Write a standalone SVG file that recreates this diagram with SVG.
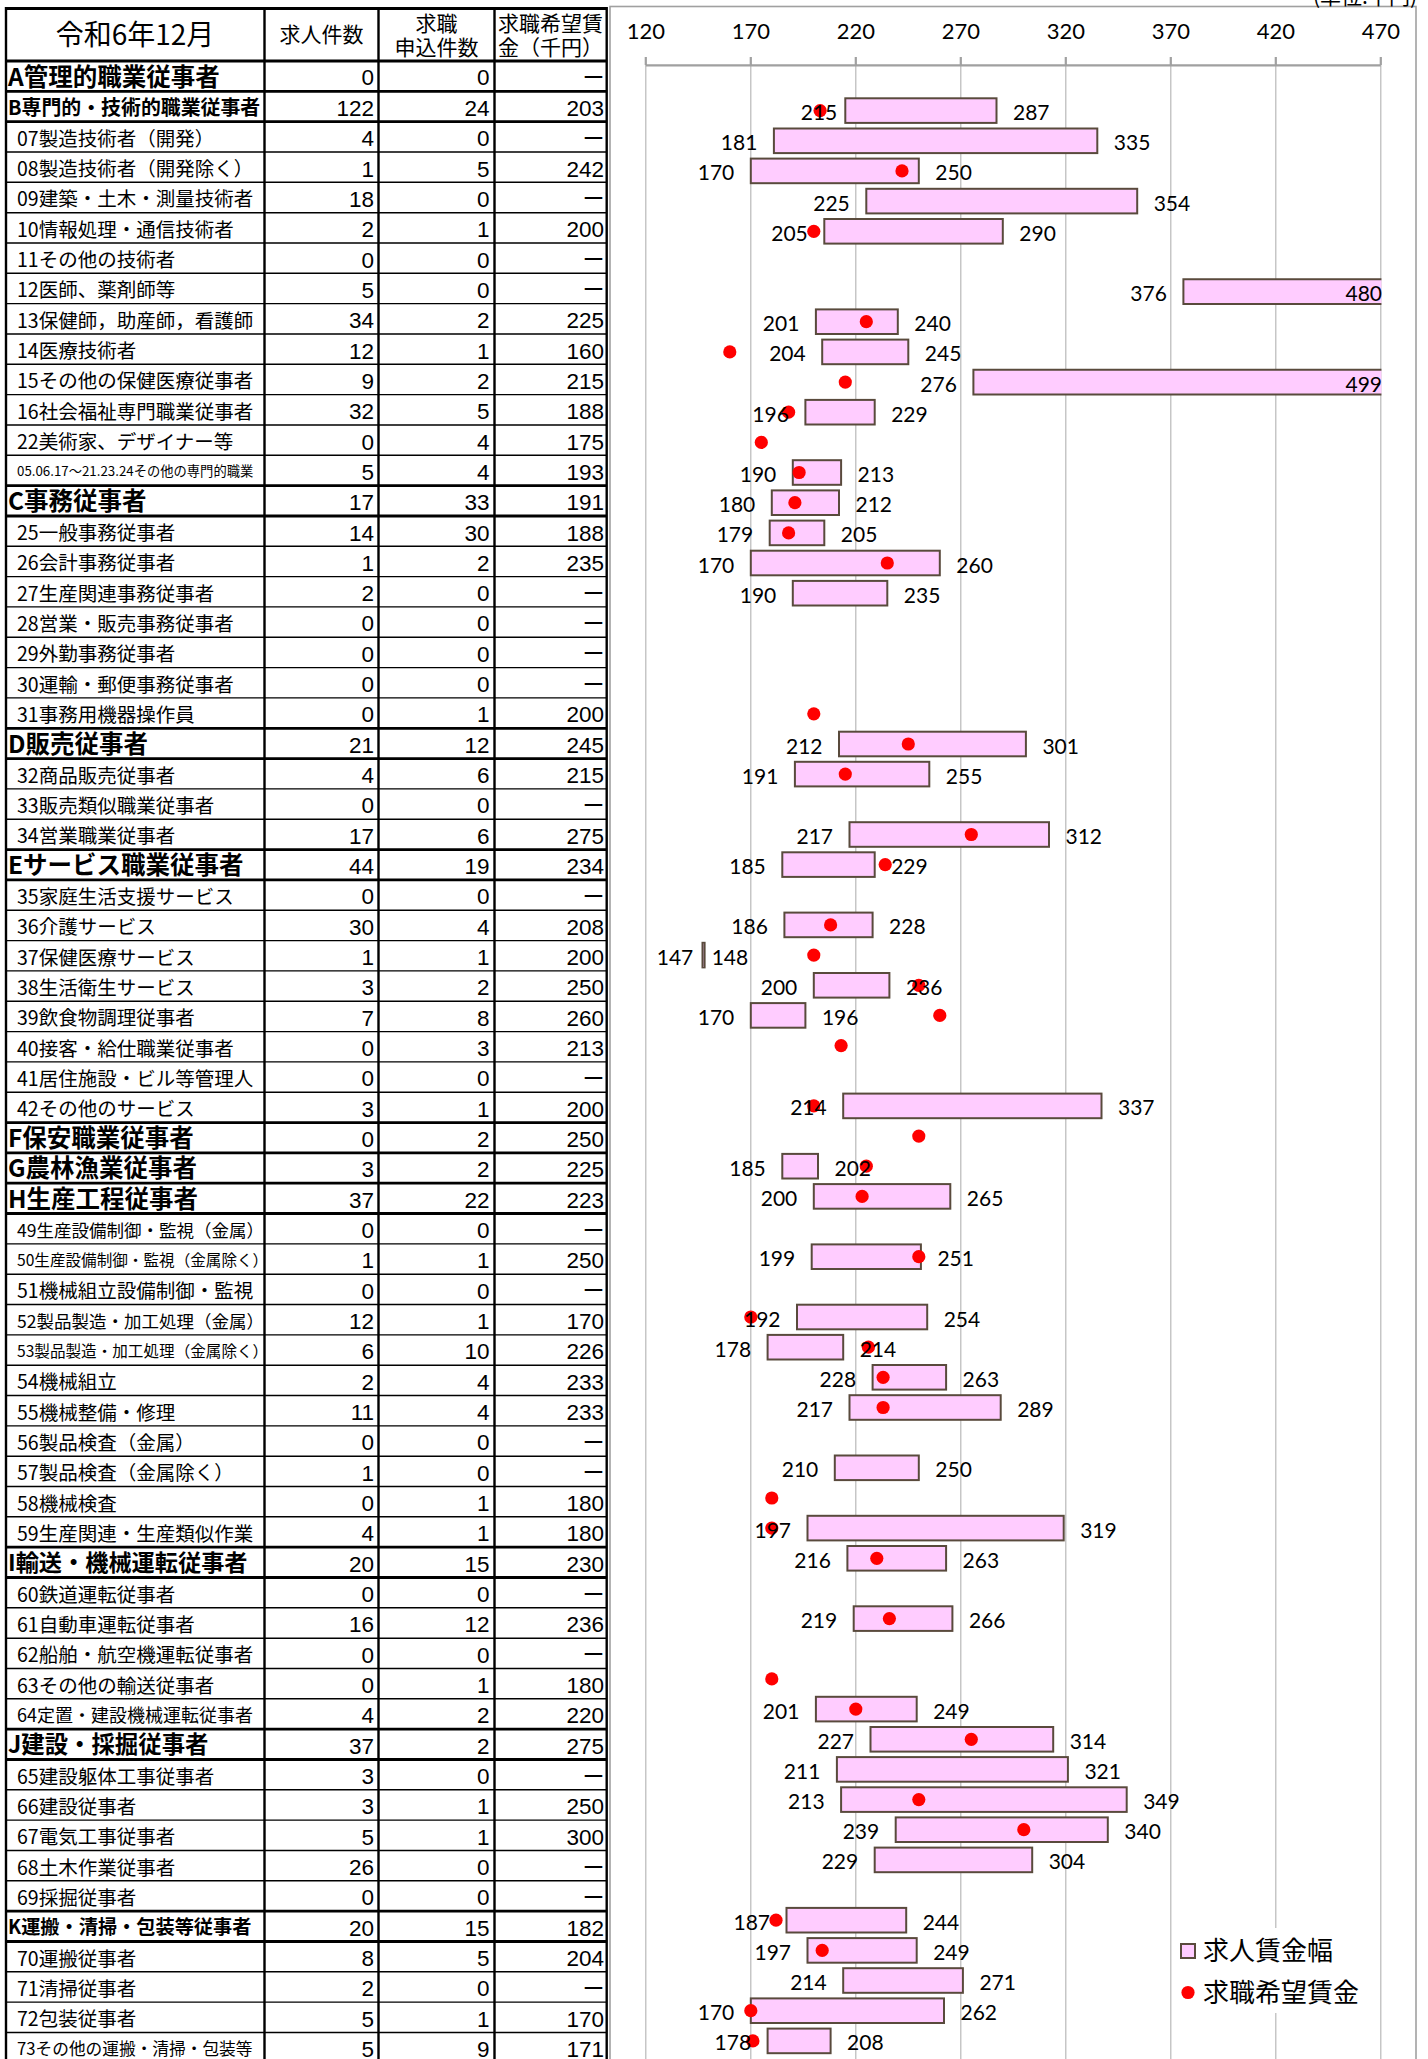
<svg xmlns="http://www.w3.org/2000/svg" width="1428" height="2059" viewBox="0 0 1428 2059">
<style>
.cj{font-family:"Noto Sans CJK JP","Noto Sans CJK SC",sans-serif;fill:#000}
.t{font-family:"Noto Sans CJK JP",sans-serif;font-size:19.5px}
.m{font-family:"Noto Sans CJK JP",sans-serif;font-size:24.5px;font-weight:700}
.n{font-family:"Liberation Sans",Arial,sans-serif;font-size:22.5px;text-anchor:end}
.d{font-family:"Noto Sans CJK JP",sans-serif;font-size:22px;text-anchor:end}
.h{font-family:"Noto Sans CJK JP",sans-serif;font-size:21px;text-anchor:middle}
.c{font-family:Lato,"Liberation Sans",sans-serif;font-size:21px}
.ce{text-anchor:end}
.ax{font-family:Lato,"Liberation Sans",sans-serif;font-size:22px;text-anchor:middle}
.bar{fill:#ffccff;stroke:#594a3c;stroke-width:2}
.dot{fill:#ff0000}
.thin{stroke:#000;stroke-width:1.4;fill:none}
.thick{stroke:#000;stroke-width:2.8;fill:none}
.grid{stroke:#b8b8b8;stroke-width:1.2;fill:none}
</style>
<rect x="0" y="0" width="1428" height="2059" fill="#fff"/>
<g id="chart-frame">
<rect x="610" y="6.5" width="806" height="2100" fill="#fff" stroke="#a0a0a0" stroke-width="1.6"/>
<text class="cj" x="1417" y="4" style="font-size:21px" text-anchor="end">(単位:千円)</text>
</g>
<g id="chart-grid">
<path class="grid" d="M645.8 65V2059M750.8 65V2059M855.8 65V2059M960.8 65V2059M1065.8 65V2059M1170.8 65V2059M1275.8 65V2059M1380.8 65V2059"/>
<path d="M645.8 65.3H1380.8M645.8 57V65M750.8 57V65M855.8 57V65M960.8 57V65M1065.8 57V65M1170.8 57V65M1275.8 57V65M1380.8 57V65" stroke="#a0a0a0" stroke-width="2.2" fill="none"/>
<text class="ax" x="645.8" y="39.3">120</text>
<text class="ax" x="750.8" y="39.3">170</text>
<text class="ax" x="855.8" y="39.3">220</text>
<text class="ax" x="960.8" y="39.3">270</text>
<text class="ax" x="1065.8" y="39.3">320</text>
<text class="ax" x="1170.8" y="39.3">370</text>
<text class="ax" x="1275.8" y="39.3">420</text>
<text class="ax" x="1380.8" y="39.3">470</text>
</g>
<g id="bars">
<rect class="bar" x="845.3" y="98.3" width="151.2" height="24.6"/>
<rect class="bar" x="773.9" y="128.5" width="323.4" height="24.6"/>
<rect class="bar" x="750.8" y="158.6" width="168" height="24.6"/>
<rect class="bar" x="866.3" y="188.8" width="270.9" height="24.6"/>
<rect class="bar" x="824.3" y="219" width="178.5" height="24.6"/>
<rect x="1183.4" y="279.3" width="198" height="24.6" fill="#ffccff"/>
<path d="M1381.4 279.3H1183.4V303.9H1381.4" fill="none" stroke="#594a3c" stroke-width="2"/>
<rect class="bar" x="815.9" y="309.4" width="81.9" height="24.6"/>
<rect class="bar" x="822.2" y="339.6" width="86.1" height="24.6"/>
<rect x="973.4" y="369.8" width="408" height="24.6" fill="#ffccff"/>
<path d="M1381.4 369.8H973.4V394.4H1381.4" fill="none" stroke="#594a3c" stroke-width="2"/>
<rect class="bar" x="805.4" y="399.9" width="69.3" height="24.6"/>
<rect class="bar" x="792.8" y="460.2" width="48.3" height="24.6"/>
<rect class="bar" x="771.8" y="490.4" width="67.2" height="24.6"/>
<rect class="bar" x="769.7" y="520.6" width="54.6" height="24.6"/>
<rect class="bar" x="750.8" y="550.7" width="189" height="24.6"/>
<rect class="bar" x="792.8" y="580.9" width="94.5" height="24.6"/>
<rect class="bar" x="839" y="731.7" width="186.9" height="24.6"/>
<rect class="bar" x="794.9" y="761.8" width="134.4" height="24.6"/>
<rect class="bar" x="849.5" y="822.2" width="199.5" height="24.6"/>
<rect class="bar" x="782.3" y="852.3" width="92.4" height="24.6"/>
<rect class="bar" x="784.4" y="912.6" width="88.2" height="24.6"/>
<rect class="bar" x="702.5" y="942.8" width="2.1" height="24.6"/>
<rect class="bar" x="813.8" y="973" width="75.6" height="24.6"/>
<rect class="bar" x="750.8" y="1003.1" width="54.6" height="24.6"/>
<rect class="bar" x="843.2" y="1093.6" width="258.3" height="24.6"/>
<rect class="bar" x="782.3" y="1153.9" width="35.7" height="24.6"/>
<rect class="bar" x="813.8" y="1184.1" width="136.5" height="24.6"/>
<rect class="bar" x="811.7" y="1244.4" width="109.2" height="24.6"/>
<rect class="bar" x="797" y="1304.7" width="130.2" height="24.6"/>
<rect class="bar" x="767.6" y="1334.9" width="75.6" height="24.6"/>
<rect class="bar" x="872.6" y="1365" width="73.5" height="24.6"/>
<rect class="bar" x="849.5" y="1395.2" width="151.2" height="24.6"/>
<rect class="bar" x="834.8" y="1455.5" width="84" height="24.6"/>
<rect class="bar" x="807.5" y="1515.8" width="256.2" height="24.6"/>
<rect class="bar" x="847.4" y="1546" width="98.7" height="24.6"/>
<rect class="bar" x="853.7" y="1606.3" width="98.7" height="24.6"/>
<rect class="bar" x="815.9" y="1696.8" width="100.8" height="24.6"/>
<rect class="bar" x="870.5" y="1727" width="182.7" height="24.6"/>
<rect class="bar" x="836.9" y="1757.1" width="231" height="24.6"/>
<rect class="bar" x="841.1" y="1787.3" width="285.6" height="24.6"/>
<rect class="bar" x="895.7" y="1817.4" width="212.1" height="24.6"/>
<rect class="bar" x="874.7" y="1847.6" width="157.5" height="24.6"/>
<rect class="bar" x="786.5" y="1907.9" width="119.7" height="24.6"/>
<rect class="bar" x="807.5" y="1938.1" width="109.2" height="24.6"/>
<rect class="bar" x="843.2" y="1968.2" width="119.7" height="24.6"/>
<rect class="bar" x="750.8" y="1998.4" width="193.2" height="24.6"/>
<rect class="bar" x="767.6" y="2028.6" width="63" height="24.6"/>
</g>
<g id="dots">
<circle class="dot" cx="820.1" cy="110.6" r="6.6"/>
<circle class="dot" cx="902" cy="170.9" r="6.6"/>
<circle class="dot" cx="813.8" cy="231.3" r="6.6"/>
<circle class="dot" cx="866.3" cy="321.7" r="6.6"/>
<circle class="dot" cx="729.8" cy="351.9" r="6.6"/>
<circle class="dot" cx="845.3" cy="382.1" r="6.6"/>
<circle class="dot" cx="788.6" cy="412.2" r="6.6"/>
<circle class="dot" cx="761.3" cy="442.4" r="6.6"/>
<circle class="dot" cx="799.1" cy="472.5" r="6.6"/>
<circle class="dot" cx="794.9" cy="502.7" r="6.6"/>
<circle class="dot" cx="788.6" cy="532.9" r="6.6"/>
<circle class="dot" cx="887.3" cy="563" r="6.6"/>
<circle class="dot" cx="813.8" cy="713.8" r="6.6"/>
<circle class="dot" cx="908.3" cy="744" r="6.6"/>
<circle class="dot" cx="845.3" cy="774.1" r="6.6"/>
<circle class="dot" cx="971.3" cy="834.5" r="6.6"/>
<circle class="dot" cx="885.2" cy="864.6" r="6.6"/>
<circle class="dot" cx="830.6" cy="924.9" r="6.6"/>
<circle class="dot" cx="813.8" cy="955.1" r="6.6"/>
<circle class="dot" cx="918.8" cy="985.3" r="6.6"/>
<circle class="dot" cx="939.8" cy="1015.4" r="6.6"/>
<circle class="dot" cx="841.1" cy="1045.6" r="6.6"/>
<circle class="dot" cx="813.8" cy="1105.9" r="6.6"/>
<circle class="dot" cx="918.8" cy="1136.1" r="6.6"/>
<circle class="dot" cx="866.3" cy="1166.2" r="6.6"/>
<circle class="dot" cx="862.1" cy="1196.4" r="6.6"/>
<circle class="dot" cx="918.8" cy="1256.7" r="6.6"/>
<circle class="dot" cx="750.8" cy="1317" r="6.6"/>
<circle class="dot" cx="868.4" cy="1347.2" r="6.6"/>
<circle class="dot" cx="883.1" cy="1377.3" r="6.6"/>
<circle class="dot" cx="883.1" cy="1407.5" r="6.6"/>
<circle class="dot" cx="771.8" cy="1498" r="6.6"/>
<circle class="dot" cx="771.8" cy="1528.1" r="6.6"/>
<circle class="dot" cx="876.8" cy="1558.3" r="6.6"/>
<circle class="dot" cx="889.4" cy="1618.6" r="6.6"/>
<circle class="dot" cx="771.8" cy="1678.9" r="6.6"/>
<circle class="dot" cx="855.8" cy="1709.1" r="6.6"/>
<circle class="dot" cx="971.3" cy="1739.3" r="6.6"/>
<circle class="dot" cx="918.8" cy="1799.6" r="6.6"/>
<circle class="dot" cx="1023.8" cy="1829.7" r="6.6"/>
<circle class="dot" cx="776" cy="1920.2" r="6.6"/>
<circle class="dot" cx="822.2" cy="1950.4" r="6.6"/>
<circle class="dot" cx="750.8" cy="2010.7" r="6.6"/>
<circle class="dot" cx="752.9" cy="2040.9" r="6.6"/>
</g>
<g id="bar-labels" class="c">
<text class="ce" x="837.3" y="120.1">215</text><text x="1013" y="120.1">287</text>
<text class="ce" x="757.4" y="150.3">181</text><text x="1113.8" y="150.3">335</text>
<text class="ce" x="734.3" y="180.4">170</text><text x="935.3" y="180.4">250</text>
<text class="ce" x="849.8" y="210.6">225</text><text x="1153.7" y="210.6">354</text>
<text class="ce" x="807.8" y="240.8">205</text><text x="1019.3" y="240.8">290</text>
<text class="ce" x="1166.9" y="301.1">376</text><text class="ce" x="1382" y="301.1">480</text>
<text class="ce" x="799.4" y="331.2">201</text><text x="914.3" y="331.2">240</text>
<text class="ce" x="805.7" y="361.4">204</text><text x="924.8" y="361.4">245</text>
<text class="ce" x="956.9" y="391.6">276</text><text class="ce" x="1382" y="391.6">499</text>
<text class="ce" x="788.9" y="421.7">196</text><text x="891.2" y="421.7">229</text>
<text class="ce" x="776.3" y="482">190</text><text x="857.6" y="482">213</text>
<text class="ce" x="755.3" y="512.2">180</text><text x="855.5" y="512.2">212</text>
<text class="ce" x="753.2" y="542.4">179</text><text x="840.8" y="542.4">205</text>
<text class="ce" x="734.3" y="572.5">170</text><text x="956.3" y="572.5">260</text>
<text class="ce" x="776.3" y="602.7">190</text><text x="903.8" y="602.7">235</text>
<text class="ce" x="822.5" y="753.5">212</text><text x="1042.4" y="753.5">301</text>
<text class="ce" x="778.4" y="783.6">191</text><text x="945.8" y="783.6">255</text>
<text class="ce" x="833" y="844">217</text><text x="1065.5" y="844">312</text>
<text class="ce" x="765.8" y="874.1">185</text><text x="891.2" y="874.1">229</text>
<text class="ce" x="767.9" y="934.4">186</text><text x="889.1" y="934.4">228</text>
<text class="ce" x="693.3" y="964.6">147</text><text x="711.7" y="964.6">148</text>
<text class="ce" x="797.3" y="994.8">200</text><text x="905.9" y="994.8">236</text>
<text class="ce" x="734.3" y="1024.9">170</text><text x="821.9" y="1024.9">196</text>
<text class="ce" x="826.7" y="1115.4">214</text><text x="1118" y="1115.4">337</text>
<text class="ce" x="765.8" y="1175.7">185</text><text x="834.5" y="1175.7">202</text>
<text class="ce" x="797.3" y="1205.9">200</text><text x="966.8" y="1205.9">265</text>
<text class="ce" x="795.2" y="1266.2">199</text><text x="937.4" y="1266.2">251</text>
<text class="ce" x="780.5" y="1326.5">192</text><text x="943.7" y="1326.5">254</text>
<text class="ce" x="751.1" y="1356.7">178</text><text x="859.7" y="1356.7">214</text>
<text class="ce" x="856.1" y="1386.8">228</text><text x="962.6" y="1386.8">263</text>
<text class="ce" x="833" y="1417">217</text><text x="1017.2" y="1417">289</text>
<text class="ce" x="818.3" y="1477.3">210</text><text x="935.3" y="1477.3">250</text>
<text class="ce" x="791" y="1537.6">197</text><text x="1080.2" y="1537.6">319</text>
<text class="ce" x="830.9" y="1567.8">216</text><text x="962.6" y="1567.8">263</text>
<text class="ce" x="837.2" y="1628.1">219</text><text x="968.9" y="1628.1">266</text>
<text class="ce" x="799.4" y="1718.6">201</text><text x="933.2" y="1718.6">249</text>
<text class="ce" x="854" y="1748.8">227</text><text x="1069.7" y="1748.8">314</text>
<text class="ce" x="820.4" y="1778.9">211</text><text x="1084.4" y="1778.9">321</text>
<text class="ce" x="824.6" y="1809.1">213</text><text x="1143.2" y="1809.1">349</text>
<text class="ce" x="879.2" y="1839.2">239</text><text x="1124.3" y="1839.2">340</text>
<text class="ce" x="858.2" y="1869.4">229</text><text x="1048.7" y="1869.4">304</text>
<text class="ce" x="770" y="1929.7">187</text><text x="922.7" y="1929.7">244</text>
<text class="ce" x="791" y="1959.9">197</text><text x="933.2" y="1959.9">249</text>
<text class="ce" x="826.7" y="1990">214</text><text x="979.4" y="1990">271</text>
<text class="ce" x="734.3" y="2020.2">170</text><text x="960.5" y="2020.2">262</text>
<text class="ce" x="751.1" y="2050.4">178</text><text x="847.1" y="2050.4">208</text>
</g>
<g id="legend">
<rect x="1173" y="1928" width="204" height="85" fill="#fff"/>
<rect x="1181" y="1944" width="14" height="14" fill="#ffccff" stroke="#594a3c" stroke-width="2"/>
<text class="cj" x="1203" y="1960" style="font-size:26px">求人賃金幅</text>
<circle class="dot" cx="1188" cy="1992.5" r="6.6"/>
<text class="cj" x="1203" y="2002" style="font-size:26px">求職希望賃金</text>
</g>
<g id="table-grid">
<path class="thin" d="M6 152H606.7M6 182.3H606.7M6 212.7H606.7M6 243H606.7M6 273.3H606.7M6 303.6H606.7M6 334H606.7M6 364.3H606.7M6 394.6H606.7M6 425H606.7M6 455.3H606.7M6 546.3H606.7M6 576.6H606.7M6 606.9H606.7M6 637.3H606.7M6 667.6H606.7M6 697.9H606.7M6 788.9H606.7M6 819.3H606.7M6 910.2H606.7M6 940.6H606.7M6 970.9H606.7M6 1001.2H606.7M6 1031.6H606.7M6 1061.9H606.7M6 1092.2H606.7M6 1243.9H606.7M6 1274.2H606.7M6 1304.5H606.7M6 1334.9H606.7M6 1365.2H606.7M6 1395.5H606.7M6 1425.9H606.7M6 1456.2H606.7M6 1486.5H606.7M6 1516.8H606.7M6 1607.8H606.7M6 1638.2H606.7M6 1668.5H606.7M6 1698.8H606.7M6 1789.8H606.7M6 1820.1H606.7M6 1850.5H606.7M6 1880.8H606.7M6 1971.8H606.7M6 2002.1H606.7M6 2032.5H606.7"/>
<path class="thick" d="M6 8.5H606.7M6 61H606.7M6 91.3H606.7M6 121.7H606.7M6 485.6H606.7M6 516H606.7M6 728.3H606.7M6 758.6H606.7M6 849.6H606.7M6 879.9H606.7M6 1122.6H606.7M6 1152.9H606.7M6 1183.2H606.7M6 1213.5H606.7M6 1547.2H606.7M6 1577.5H606.7M6 1729.2H606.7M6 1759.5H606.7M6 1911.1H606.7M6 1941.5H606.7"/>
<path d="M6 7V2059M264.5 7V2059M378.5 7V2059M494.5 7V2059M606.7 7V2059" stroke="#000" stroke-width="2.4" fill="none"/>
</g>
<g id="table-header">
<text class="cj" x="135" y="44.7" style="font-size:28px" text-anchor="middle">令和6年12月</text>
<text class="h" x="321.5" y="41.5">求人件数</text>
<text class="h" x="436.5" y="31">求職</text>
<text class="h" x="436.5" y="55">申込件数</text>
<text class="h" x="550.6" y="31">求職希望賃</text>
<text class="h" x="550.6" y="55">金（千円）</text>
</g>
<g id="table-rows">
<g id="row-A"><text class="m" x="8" y="85.5">A管理的職業従事者</text><text class="n" x="374" y="85">0</text><text class="n" x="489.5" y="85">0</text><text class="d" x="604.5" y="85">ー</text></g>
<g id="row-B"><text class="m" x="8" y="114.8" style="font-size:19.9px">B専門的・技術的職業従事者</text><text class="n" x="374" y="115.8">122</text><text class="n" x="489.5" y="115.8">24</text><text class="n" x="604" y="115.8">203</text></g>
<g id="row-07"><text class="t" x="17" y="145.7">07製造技術者（開発）</text><text class="n" x="374" y="146.2">4</text><text class="n" x="489.5" y="146.2">0</text><text class="d" x="604.5" y="145.7">ー</text></g>
<g id="row-08"><text class="t" x="17" y="176">08製造技術者（開発除く）</text><text class="n" x="374" y="176.5">1</text><text class="n" x="489.5" y="176.5">5</text><text class="n" x="604" y="176.5">242</text></g>
<g id="row-09"><text class="t" x="17" y="206.3">09建築・土木・測量技術者</text><text class="n" x="374" y="206.8">18</text><text class="n" x="489.5" y="206.8">0</text><text class="d" x="604.5" y="206.3">ー</text></g>
<g id="row-10"><text class="t" x="17" y="236.7">10情報処理・通信技術者</text><text class="n" x="374" y="237.2">2</text><text class="n" x="489.5" y="237.2">1</text><text class="n" x="604" y="237.2">200</text></g>
<g id="row-11"><text class="t" x="17" y="267">11その他の技術者</text><text class="n" x="374" y="267.5">0</text><text class="n" x="489.5" y="267.5">0</text><text class="d" x="604.5" y="267">ー</text></g>
<g id="row-12"><text class="t" x="17" y="297.3">12医師、薬剤師等</text><text class="n" x="374" y="297.8">5</text><text class="n" x="489.5" y="297.8">0</text><text class="d" x="604.5" y="297.3">ー</text></g>
<g id="row-13"><text class="t" x="17" y="327.6">13保健師，助産師，看護師</text><text class="n" x="374" y="328.1">34</text><text class="n" x="489.5" y="328.1">2</text><text class="n" x="604" y="328.1">225</text></g>
<g id="row-14"><text class="t" x="17" y="358">14医療技術者</text><text class="n" x="374" y="358.5">12</text><text class="n" x="489.5" y="358.5">1</text><text class="n" x="604" y="358.5">160</text></g>
<g id="row-15"><text class="t" x="17" y="388.3">15その他の保健医療従事者</text><text class="n" x="374" y="388.8">9</text><text class="n" x="489.5" y="388.8">2</text><text class="n" x="604" y="388.8">215</text></g>
<g id="row-16"><text class="t" x="17" y="418.6">16社会福祉専門職業従事者</text><text class="n" x="374" y="419.1">32</text><text class="n" x="489.5" y="419.1">5</text><text class="n" x="604" y="419.1">188</text></g>
<g id="row-22"><text class="t" x="17" y="449">22美術家、デザイナー等</text><text class="n" x="374" y="449.5">0</text><text class="n" x="489.5" y="449.5">4</text><text class="n" x="604" y="449.5">175</text></g>
<g id="row-05"><text class="t" x="17" y="476.3" style="font-size:13.3px">05.06.17～21.23.24その他の専門的職業</text><text class="n" x="374" y="479.8">5</text><text class="n" x="489.5" y="479.8">4</text><text class="n" x="604" y="479.8">193</text></g>
<g id="row-C"><text class="m" x="8" y="510.1">C事務従事者</text><text class="n" x="374" y="510.1">17</text><text class="n" x="489.5" y="510.1">33</text><text class="n" x="604" y="510.1">191</text></g>
<g id="row-25"><text class="t" x="17" y="540">25一般事務従事者</text><text class="n" x="374" y="540.5">14</text><text class="n" x="489.5" y="540.5">30</text><text class="n" x="604" y="540.5">188</text></g>
<g id="row-26"><text class="t" x="17" y="570.3">26会計事務従事者</text><text class="n" x="374" y="570.8">1</text><text class="n" x="489.5" y="570.8">2</text><text class="n" x="604" y="570.8">235</text></g>
<g id="row-27"><text class="t" x="17" y="600.6">27生産関連事務従事者</text><text class="n" x="374" y="601.1">2</text><text class="n" x="489.5" y="601.1">0</text><text class="d" x="604.5" y="600.6">ー</text></g>
<g id="row-28"><text class="t" x="17" y="630.9">28営業・販売事務従事者</text><text class="n" x="374" y="631.4">0</text><text class="n" x="489.5" y="631.4">0</text><text class="d" x="604.5" y="630.9">ー</text></g>
<g id="row-29"><text class="t" x="17" y="661.3">29外勤事務従事者</text><text class="n" x="374" y="661.8">0</text><text class="n" x="489.5" y="661.8">0</text><text class="d" x="604.5" y="661.3">ー</text></g>
<g id="row-30"><text class="t" x="17" y="691.6">30運輸・郵便事務従事者</text><text class="n" x="374" y="692.1">0</text><text class="n" x="489.5" y="692.1">0</text><text class="d" x="604.5" y="691.6">ー</text></g>
<g id="row-31"><text class="t" x="17" y="721.9">31事務用機器操作員</text><text class="n" x="374" y="722.4">0</text><text class="n" x="489.5" y="722.4">1</text><text class="n" x="604" y="722.4">200</text></g>
<g id="row-D"><text class="m" x="8" y="752.8">D販売従事者</text><text class="n" x="374" y="752.8">21</text><text class="n" x="489.5" y="752.8">12</text><text class="n" x="604" y="752.8">245</text></g>
<g id="row-32"><text class="t" x="17" y="782.6">32商品販売従事者</text><text class="n" x="374" y="783.1">4</text><text class="n" x="489.5" y="783.1">6</text><text class="n" x="604" y="783.1">215</text></g>
<g id="row-33"><text class="t" x="17" y="812.9">33販売類似職業従事者</text><text class="n" x="374" y="813.4">0</text><text class="n" x="489.5" y="813.4">0</text><text class="d" x="604.5" y="812.9">ー</text></g>
<g id="row-34"><text class="t" x="17" y="843.3">34営業職業従事者</text><text class="n" x="374" y="843.8">17</text><text class="n" x="489.5" y="843.8">6</text><text class="n" x="604" y="843.8">275</text></g>
<g id="row-E"><text class="m" x="8" y="874.1">Eサービス職業従事者</text><text class="n" x="374" y="874.1">44</text><text class="n" x="489.5" y="874.1">19</text><text class="n" x="604" y="874.1">234</text></g>
<g id="row-35"><text class="t" x="17" y="903.9">35家庭生活支援サービス</text><text class="n" x="374" y="904.4">0</text><text class="n" x="489.5" y="904.4">0</text><text class="d" x="604.5" y="903.9">ー</text></g>
<g id="row-36"><text class="t" x="17" y="934.2">36介護サービス</text><text class="n" x="374" y="934.7">30</text><text class="n" x="489.5" y="934.7">4</text><text class="n" x="604" y="934.7">208</text></g>
<g id="row-37"><text class="t" x="17" y="964.6">37保健医療サービス</text><text class="n" x="374" y="965.1">1</text><text class="n" x="489.5" y="965.1">1</text><text class="n" x="604" y="965.1">200</text></g>
<g id="row-38"><text class="t" x="17" y="994.9">38生活衛生サービス</text><text class="n" x="374" y="995.4">3</text><text class="n" x="489.5" y="995.4">2</text><text class="n" x="604" y="995.4">250</text></g>
<g id="row-39"><text class="t" x="17" y="1025.2">39飲食物調理従事者</text><text class="n" x="374" y="1025.7">7</text><text class="n" x="489.5" y="1025.7">8</text><text class="n" x="604" y="1025.7">260</text></g>
<g id="row-40"><text class="t" x="17" y="1055.6">40接客・給仕職業従事者</text><text class="n" x="374" y="1056.1">0</text><text class="n" x="489.5" y="1056.1">3</text><text class="n" x="604" y="1056.1">213</text></g>
<g id="row-41"><text class="t" x="17" y="1085.9">41居住施設・ビル等管理人</text><text class="n" x="374" y="1086.4">0</text><text class="n" x="489.5" y="1086.4">0</text><text class="d" x="604.5" y="1085.9">ー</text></g>
<g id="row-42"><text class="t" x="17" y="1116.2">42その他のサービス</text><text class="n" x="374" y="1116.7">3</text><text class="n" x="489.5" y="1116.7">1</text><text class="n" x="604" y="1116.7">200</text></g>
<g id="row-F"><text class="m" x="8" y="1147.1">F保安職業従事者</text><text class="n" x="374" y="1147.1">0</text><text class="n" x="489.5" y="1147.1">2</text><text class="n" x="604" y="1147.1">250</text></g>
<g id="row-G"><text class="m" x="8" y="1177.4">G農林漁業従事者</text><text class="n" x="374" y="1177.4">3</text><text class="n" x="489.5" y="1177.4">2</text><text class="n" x="604" y="1177.4">225</text></g>
<g id="row-H"><text class="m" x="8" y="1207.7">H生産工程従事者</text><text class="n" x="374" y="1207.7">37</text><text class="n" x="489.5" y="1207.7">22</text><text class="n" x="604" y="1207.7">223</text></g>
<g id="row-49"><text class="t" x="17" y="1236.5" style="font-size:17.5px">49生産設備制御・監視（金属）</text><text class="n" x="374" y="1238">0</text><text class="n" x="489.5" y="1238">0</text><text class="d" x="604.5" y="1237.5">ー</text></g>
<g id="row-50"><text class="t" x="17" y="1266" style="font-size:15.6px">50生産設備制御・監視（金属除く）</text><text class="n" x="374" y="1268.4">1</text><text class="n" x="489.5" y="1268.4">1</text><text class="n" x="604" y="1268.4">250</text></g>
<g id="row-51"><text class="t" x="17" y="1298.2">51機械組立設備制御・監視</text><text class="n" x="374" y="1298.7">0</text><text class="n" x="489.5" y="1298.7">0</text><text class="d" x="604.5" y="1298.2">ー</text></g>
<g id="row-52"><text class="t" x="17" y="1327.5" style="font-size:17.5px">52製品製造・加工処理（金属）</text><text class="n" x="374" y="1329">12</text><text class="n" x="489.5" y="1329">1</text><text class="n" x="604" y="1329">170</text></g>
<g id="row-53"><text class="t" x="17" y="1357" style="font-size:15.6px">53製品製造・加工処理（金属除く）</text><text class="n" x="374" y="1359.4">6</text><text class="n" x="489.5" y="1359.4">10</text><text class="n" x="604" y="1359.4">226</text></g>
<g id="row-54"><text class="t" x="17" y="1389.2">54機械組立</text><text class="n" x="374" y="1389.7">2</text><text class="n" x="489.5" y="1389.7">4</text><text class="n" x="604" y="1389.7">233</text></g>
<g id="row-55"><text class="t" x="17" y="1419.5">55機械整備・修理</text><text class="n" x="374" y="1420">11</text><text class="n" x="489.5" y="1420">4</text><text class="n" x="604" y="1420">233</text></g>
<g id="row-56"><text class="t" x="17" y="1449.9">56製品検査（金属）</text><text class="n" x="374" y="1450.4">0</text><text class="n" x="489.5" y="1450.4">0</text><text class="d" x="604.5" y="1449.9">ー</text></g>
<g id="row-57"><text class="t" x="17" y="1480.2">57製品検査（金属除く）</text><text class="n" x="374" y="1480.7">1</text><text class="n" x="489.5" y="1480.7">0</text><text class="d" x="604.5" y="1480.2">ー</text></g>
<g id="row-58"><text class="t" x="17" y="1510.5">58機械検査</text><text class="n" x="374" y="1511">0</text><text class="n" x="489.5" y="1511">1</text><text class="n" x="604" y="1511">180</text></g>
<g id="row-59"><text class="t" x="17" y="1540.8">59生産関連・生産類似作業</text><text class="n" x="374" y="1541.3">4</text><text class="n" x="489.5" y="1541.3">1</text><text class="n" x="604" y="1541.3">180</text></g>
<g id="row-I"><text class="m" x="8" y="1571.2" style="font-size:23.2px">I輸送・機械運転従事者</text><text class="n" x="374" y="1571.7">20</text><text class="n" x="489.5" y="1571.7">15</text><text class="n" x="604" y="1571.7">230</text></g>
<g id="row-60"><text class="t" x="17" y="1601.5">60鉄道運転従事者</text><text class="n" x="374" y="1602">0</text><text class="n" x="489.5" y="1602">0</text><text class="d" x="604.5" y="1601.5">ー</text></g>
<g id="row-61"><text class="t" x="17" y="1631.8">61自動車運転従事者</text><text class="n" x="374" y="1632.3">16</text><text class="n" x="489.5" y="1632.3">12</text><text class="n" x="604" y="1632.3">236</text></g>
<g id="row-62"><text class="t" x="17" y="1662.2">62船舶・航空機運転従事者</text><text class="n" x="374" y="1662.7">0</text><text class="n" x="489.5" y="1662.7">0</text><text class="d" x="604.5" y="1662.2">ー</text></g>
<g id="row-63"><text class="t" x="17" y="1692.5">63その他の輸送従事者</text><text class="n" x="374" y="1693">0</text><text class="n" x="489.5" y="1693">1</text><text class="n" x="604" y="1693">180</text></g>
<g id="row-64"><text class="t" x="17" y="1722.3" style="font-size:18px">64定置・建設機械運転従事者</text><text class="n" x="374" y="1723.3">4</text><text class="n" x="489.5" y="1723.3">2</text><text class="n" x="604" y="1723.3">220</text></g>
<g id="row-J"><text class="m" x="8" y="1753.2" style="font-size:23.4px">J建設・採掘従事者</text><text class="n" x="374" y="1753.7">37</text><text class="n" x="489.5" y="1753.7">2</text><text class="n" x="604" y="1753.7">275</text></g>
<g id="row-65"><text class="t" x="17" y="1783.5">65建設躯体工事従事者</text><text class="n" x="374" y="1784">3</text><text class="n" x="489.5" y="1784">0</text><text class="d" x="604.5" y="1783.5">ー</text></g>
<g id="row-66"><text class="t" x="17" y="1813.8">66建設従事者</text><text class="n" x="374" y="1814.3">3</text><text class="n" x="489.5" y="1814.3">1</text><text class="n" x="604" y="1814.3">250</text></g>
<g id="row-67"><text class="t" x="17" y="1844.1">67電気工事従事者</text><text class="n" x="374" y="1844.6">5</text><text class="n" x="489.5" y="1844.6">1</text><text class="n" x="604" y="1844.6">300</text></g>
<g id="row-68"><text class="t" x="17" y="1874.5">68土木作業従事者</text><text class="n" x="374" y="1875">26</text><text class="n" x="489.5" y="1875">0</text><text class="d" x="604.5" y="1874.5">ー</text></g>
<g id="row-69"><text class="t" x="17" y="1904.8">69採掘従事者</text><text class="n" x="374" y="1905.3">0</text><text class="n" x="489.5" y="1905.3">0</text><text class="d" x="604.5" y="1904.8">ー</text></g>
<g id="row-K"><text class="m" x="8" y="1934.2" style="font-size:19.2px">K運搬・清掃・包装等従事者</text><text class="n" x="374" y="1935.6">20</text><text class="n" x="489.5" y="1935.6">15</text><text class="n" x="604" y="1935.6">182</text></g>
<g id="row-70"><text class="t" x="17" y="1965.5">70運搬従事者</text><text class="n" x="374" y="1966">8</text><text class="n" x="489.5" y="1966">5</text><text class="n" x="604" y="1966">204</text></g>
<g id="row-71"><text class="t" x="17" y="1995.8">71清掃従事者</text><text class="n" x="374" y="1996.3">2</text><text class="n" x="489.5" y="1996.3">0</text><text class="d" x="604.5" y="1995.8">ー</text></g>
<g id="row-72"><text class="t" x="17" y="2026.1">72包装従事者</text><text class="n" x="374" y="2026.6">5</text><text class="n" x="489.5" y="2026.6">1</text><text class="n" x="604" y="2026.6">170</text></g>
<g id="row-73"><text class="t" x="17" y="2055.3" style="font-size:16.7px">73その他の運搬・清掃・包装等</text><text class="n" x="374" y="2056.5">5</text><text class="n" x="489.5" y="2056.5">9</text><text class="n" x="604" y="2056.5">171</text></g>
</g>
</svg>
